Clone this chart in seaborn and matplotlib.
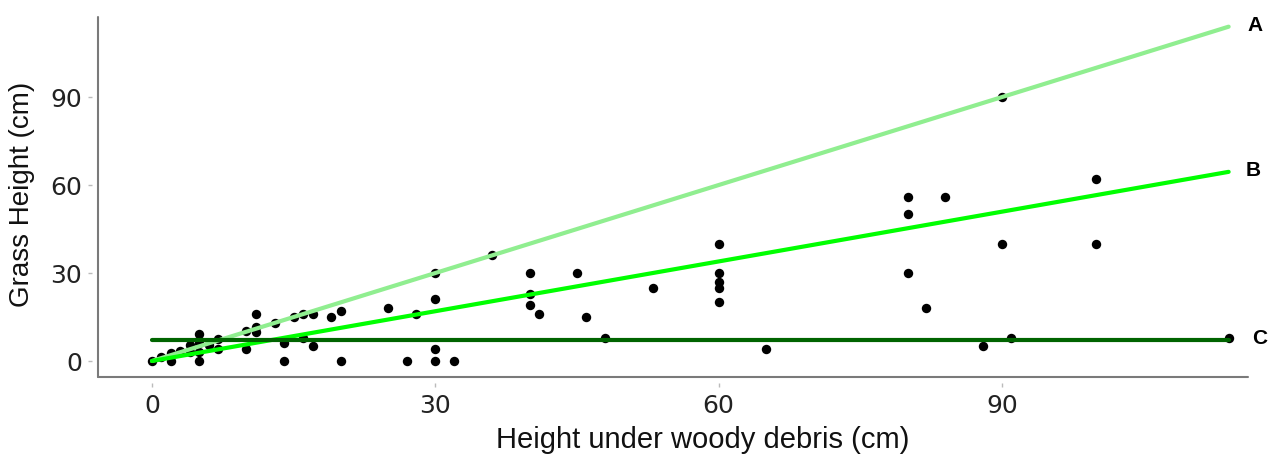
import matplotlib
matplotlib.use("Agg")
import matplotlib.pyplot as plt
import seaborn as sns
import pandas as pd

# ---- data ----
debris_height = [0, 1, 2, 2, 3, 4, 4, 5, 5, 5, 5, 6, 7, 7, 10, 10, 11, 11, 11, 13, 14, 14,
                 15, 16, 16, 17, 17, 19, 20, 20, 25, 27, 28, 30, 30, 30, 30, 32, 36, 40, 40,
                 40, 41, 45, 46, 48, 53, 60, 60, 60, 60, 60, 65, 80, 80, 80, 82, 84, 88, 90,
                 90, 91, 100, 100, 114]
grass_height = [0, 1.2, 0, 2.6, 3.5, 5.5, 3.2, 9.2, 6, 3.2, 0, 5.5, 7.4, 4, 4, 10.3, 16, 11.5,
                9.8, 13, 6, 0, 15, 16, 8, 16, 5, 15, 17, 0, 18, 0, 16, 30, 21, 4, 0, 0, 36, 30,
                23, 19, 16, 30, 15, 8, 25, 40, 30, 27, 25, 20, 4, 56, 50, 30, 18, 56, 5, 90, 40,
                8, 62, 40, 8]

line_x = [0, 114]
line_A = [0, 114]
line_B = [0, 64.5]
line_C = [7.2, 7.2]
line_names = ["A", "B", "C"]
line_colors = ["#90EE90", "#00FF00", "#006400"]

pts = pd.DataFrame({"x": debris_height, "y": grass_height})
lines = pd.DataFrame({
    "x": line_x * 3,
    "y": line_A + line_B + line_C,
    "model": [n for n in line_names for _ in line_x],
})

sns.set_style("white")
plt.rcParams["font.family"] = ["DejaVu Sans"]

fig = plt.figure(figsize=(12.69, 4.55), dpi=100)
W, H = 1269, 455
ax = fig.add_axes([92 / W, (H - 383) / H, (1248 - 92) / W, (383 - 17) / H])

sns.scatterplot(data=pts, x="x", y="y", ax=ax, color="black", s=46,
                edgecolor="black", linewidth=0, zorder=2)
sns.lineplot(data=lines, x="x", y="y", hue="model", palette=line_colors,
             hue_order=line_names, ax=ax, linewidth=3, legend=False, zorder=3,
             estimator=None, sort=False)

xmin, xmax = -6.35, 116.05
ymin, ymax = -7.5, 117.3
ax.set_xlim(xmin, xmax)
ax.set_ylim(ymin, ymax)

# axis lines (offset slightly from the tick marks, as in the reference)
x_axis_pos = -5.72
y_axis_pos = -5.45
for s in ax.spines.values():
    s.set_visible(False)
ax.axhline(y_axis_pos, xmin=(x_axis_pos - xmin) / (xmax - xmin), xmax=1,
           color="#7a7a7a", lw=1.5, clip_on=False, zorder=1)
ax.axvline(x_axis_pos, ymin=(y_axis_pos - ymin) / (ymax - ymin), ymax=1,
           color="#7a7a7a", lw=1.5, clip_on=False, zorder=1)

ticks = [0, 30, 60, 90]
ax.set_xticks(ticks)
ax.set_yticks(ticks)
ax.set_xticklabels([str(t) for t in ticks])
ax.set_yticklabels([str(t) for t in ticks])
ax.tick_params(axis="both", which="major", direction="out", length=3, width=1,
               color="#bbbbbb", labelsize=18, labelcolor="#222222",
               bottom=True, left=True)
ax.tick_params(axis="x", pad=5)
ax.tick_params(axis="y", pad=4)

ax.set_xlabel("Height under woody debris (cm)", fontsize=21,
              family=["Liberation Sans", "DejaVu Sans"], color="#111111")
ax.set_ylabel("Grass Height (cm)", fontsize=20,
              family=["Liberation Sans", "DejaVu Sans"], color="#111111")
# place titles as in reference
ax.xaxis.set_label_coords((703 - 92) / (1248 - 92), -(440 - 383) / (383 - 17))
ax.yaxis.set_label_coords(-(92 - 22) / (1248 - 92), (383 - 194) / (383 - 17))
ax.xaxis.label.set_va("center")
ax.yaxis.label.set_va("center")

label_pos = {"A": (116.0, 114.5), "B": (115.8, 65.0), "C": (116.5, 7.8)}
for name in line_names:
    lx, ly = label_pos[name]
    ax.text(lx, ly, name, fontsize=15, fontweight="bold", ha="left", va="center",
            family=["Liberation Sans", "DejaVu Sans"], clip_on=False, color="black")

ax.grid(False)
fig.savefig("out.png", dpi=100)
